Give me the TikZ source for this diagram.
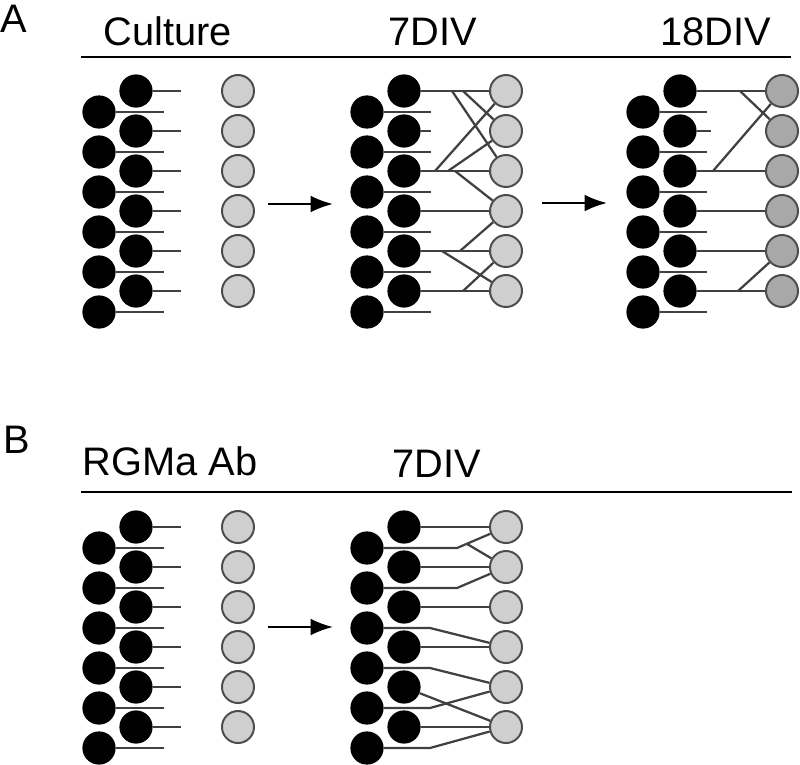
\documentclass[tikz,border=0pt]{standalone}
\usepackage{fontspec}
\setmainfont{Liberation Sans}
\usetikzlibrary{calc,arrows.meta}

\begin{document}
\begin{tikzpicture}[x=0.025cm,y=-0.025cm,
	axon/.style={line width=1.6pt,draw=black!75},
	rgc/.style={circle,fill=black,inner sep=0pt,minimum size=0.83cm},
	tgt/.style={circle,draw=black!70,line width=1.4pt,inner sep=0pt,minimum size=0.8cm},
	hdr/.style={font=\fontsize{28.3pt}{30pt}\selectfont,anchor=base,inner sep=0pt},
	rule/.style={line width=2pt},
	steparrow/.style={line width=1.6pt,-{Latex[length=0.56cm,width=0.42cm]}}]
	\useasboundingbox (0,0) rectangle (800,764);
	% headings
	\node[hdr] (labA) at (14,32) {A};
	\node[hdr] (labB) at (17,453) {B};
	\node[hdr] (tCult) at (168,45) {Culture};
	\node[hdr] (tA7) at (433,45) {7DIV};
	\node[hdr] (tA18) at (716,45) {18DIV};
	\node[hdr] (tRGMa) at (170,475) {RGMa Ab};
	\node[hdr] (tB7) at (437,477) {7DIV};
	\coordinate (ruleA1) at (81,57);
	\coordinate (ruleA2) at (791,57);
	\coordinate (ruleB1) at (81,492);
	\coordinate (ruleB2) at (792,492);
	\draw[rule] (ruleA1) -- (ruleA2);
	\draw[rule] (ruleB1) -- (ruleB2);
	% cells
	\foreach \g/\ix/\iy/\fc in {A1/136/91/black!19,A2/404/91/black!19,A3/680/91/black!34,B1/136/527/black!19,B2/404/527/black!19}
	\foreach \k in {1,...,6} {
		\node[rgc] (\g i\k) at (\ix,{\iy+40*\k-40}) {};
		\node[rgc] (\g o\k) at ({\ix-37},{\iy+40*\k-19}) {};
		\node[tgt,fill=\fc] (\g g\k) at ({\ix+102},{\iy+40*\k-40}) {};
	}
	% culture: no contacts yet
	\foreach \g in {A1,B1}
	\foreach \k in {1,...,6} {
		\draw[axon] (\g i\k.east) -- ++(28,0);
		\draw[axon] (\g o\k.east) -- ++(48,0);
	}
	% 7DIV
	\foreach \k in {1,3,4,5,6}
	\draw[axon] (A2i\k) -- (A2g\k);
	\draw[axon] (A2i2.east) -- ++(10,0);
	\foreach \k in {1,...,6}
	\draw[axon] (A2o\k.east) -- ++(47,0);
	\foreach \r/\dx/\t in {1/48/3,1/59/2,3/31/1,3/44/2,3/51/4,5/38/6,5/56/4,6/59/5}
	\draw[axon] ($(A2i\r)+(\dx,0)$) -- (A2g\t);
	% 18DIV
	\foreach \k in {1,3,4,5,6}
	\draw[axon] (A3i\k) -- (A3g\k);
	\draw[axon] (A3i2.east) -- ++(14,0);
	\foreach \k in {1,...,6}
	\draw[axon] (A3o\k.east) -- ++(47,0);
	\foreach \r/\dx/\t in {1/60/2,3/33/1,6/58/5}
	\draw[axon] ($(A3i\r)+(\dx,0)$) -- (A3g\t);
	% RGMa Ab, 7DIV
	\foreach \k in {1,2,3,4,6}
	\draw[axon] (B2i\k) -- (B2g\k);
	\draw[axon] (B2i5) -- (B2g6);
	\foreach \k/\bx/\t in {1/90/1,2/90/2,3/63/4,4/63/5,5/63/5,6/63/6}
	\draw[axon] (B2o\k.east) -- ($(B2o\k)+(\bx,0)$) coordinate (B2c\k) -- (B2g\t);
	\draw[axon] ($(B2c1)!0.2!(B2g1)$) -- (B2g2);
	% arrows
	\coordinate (arA1s) at (268,204);
	\coordinate (arA1e) at (333,204);
	\coordinate (arA2s) at (542,203);
	\coordinate (arA2e) at (607,203);
	\coordinate (arB1s) at (268,627);
	\coordinate (arB1e) at (333,627);
	\draw[steparrow] (arA1s) -- (arA1e);
	\draw[steparrow] (arA2s) -- (arA2e);
	\draw[steparrow] (arB1s) -- (arB1e);
\end{tikzpicture}
\end{document}
